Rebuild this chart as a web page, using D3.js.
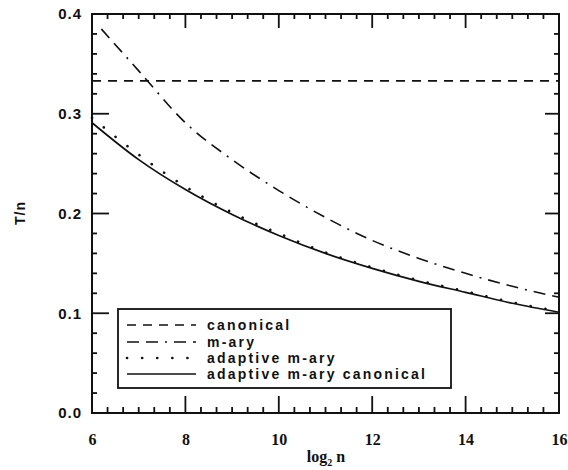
<!DOCTYPE html>
<html>
<head>
<meta charset="utf-8">
<script src="https://cdn.jsdelivr.net/npm/d3@7"></script>
<style>
  html, body { margin: 0; padding: 0; background: #fff; }
  svg { display: block; }
</style>
</head>
<body>
<svg id="chart" width="568" height="470"></svg>
<script>
// ---- data ----
const xTicks = [6, 8, 10, 12, 14, 16];
const yTicks = [0.0, 0.1, 0.2, 0.3, 0.4];
const yTickLabels = ["0.0", "0.1", "0.2", "0.3", "0.4"];

const canonicalX = [6, 16];
const canonicalY = [0.333, 0.333];

const mAryX = [6.2, 7, 8, 9, 10, 11, 12, 13, 14, 15, 16];
const mAryY = [0.385, 0.343, 0.291, 0.254, 0.223, 0.196, 0.173, 0.155, 0.140, 0.127, 0.116];

const adaptiveX = [6, 7, 8, 9, 10, 11, 12, 13, 14, 15, 16];
const adaptiveY = [0.296, 0.259, 0.227, 0.201, 0.180, 0.161, 0.146, 0.133, 0.122, 0.111, 0.102];

const adaptiveCanonX = [6, 7, 8, 9, 10, 11, 12, 13, 14, 15, 16];
const adaptiveCanonY = [0.291, 0.254, 0.224, 0.199, 0.178, 0.160, 0.145, 0.132, 0.121, 0.110, 0.101];

const legendLabels = ["canonical", "m-ary", "adaptive m-ary", "adaptive m-ary canonical"];

// ---- layout ----
const svg = d3.select("#chart");
const mLeft = 92, mRight = 559, mTop = 14, mBottom = 413;

const xScale = d3.scaleLinear().domain([6, 16]).range([mLeft, mRight]);
const yScale = d3.scaleLinear().domain([0, 0.4]).range([mBottom, mTop]);

const minorX = [];
for (let i = 0; i <= 30; i++) { if (i % 6 !== 0) minorX.push(6 + i / 3); }
const minorY = [];
for (let i = 0; i <= 20; i++) { if (i % 5 !== 0) minorY.push(i * 0.02); }

const ink = "#111";

// frame
svg.append("rect").attr("x", mLeft).attr("y", mTop).attr("width", mRight - mLeft).attr("height", mBottom - mTop)
  .attr("fill", "none").attr("stroke", ink).attr("stroke-width", 2);

// ---- ticks (drawn inward on all four sides) ----
const tickLayer = svg.append("g").attr("id", "ticks");
function addV(vals, y0, len) {
  vals.forEach(v => {
    tickLayer.append("rect").attr("x", xScale(v) - 0.9).attr("width", 1.8)
      .attr("y", Math.min(y0, y0 + len)).attr("height", Math.abs(len)).attr("fill", ink);
  });
}
function addH(vals, x0, len) {
  vals.forEach(v => {
    tickLayer.append("rect").attr("y", yScale(v) - 0.9).attr("height", 1.8)
      .attr("x", Math.min(x0, x0 + len)).attr("width", Math.abs(len)).attr("fill", ink);
  });
}
addV(xTicks, mBottom, -17);
addV(minorX, mBottom, -6);
addV(xTicks, mTop, 14);
addV(minorX, mTop, 5);
addH(yTicks, mLeft, 17);
addH(minorY, mLeft, 5);
addH(yTicks, mRight, -14);
addH(minorY, mRight, -5);

// tick labels via d3 axes
svg.append("g").attr("transform", `translate(0,${mBottom})`)
  .call(d3.axisBottom(xScale).tickValues(xTicks).tickSize(0).tickPadding(21).tickFormat(d3.format("d")))
  .call(g => g.select(".domain").remove())
  .call(g => g.selectAll(".tick line").remove())
  .call(g => g.selectAll("text").attr("font-family", "Liberation Serif, serif").attr("font-weight", "bold")
     .attr("font-size", 16).attr("fill", ink));

svg.append("g").attr("transform", `translate(${mLeft},0)`)
  .call(d3.axisLeft(yScale).tickValues(yTicks).tickSize(0).tickPadding(10).tickFormat((d, i) => yTickLabels[i]))
  .call(g => g.select(".domain").remove())
  .call(g => g.selectAll(".tick line").remove())
  .call(g => g.selectAll("text").attr("font-family", "Liberation Sans, Arial, sans-serif").attr("font-weight", "bold")
     .attr("font-size", 15).attr("letter-spacing", 1).attr("fill", ink));

// axis titles
const xt = svg.append("text").attr("x", 326).attr("y", 462).attr("text-anchor", "middle")
  .attr("font-family", "Liberation Serif, serif").attr("font-weight", "bold").attr("font-size", 16).attr("fill", ink);
xt.append("tspan").text("log");
xt.append("tspan").attr("font-size", 10).attr("dy", 4).text("2");
xt.append("tspan").attr("dy", -4).text(" n");

svg.append("text").attr("transform", "translate(25,213) rotate(-90)").attr("text-anchor", "middle")
  .attr("font-family", "Liberation Sans, Arial, sans-serif").attr("font-weight", "bold").attr("font-size", 14)
  .attr("letter-spacing", 1).attr("fill", ink).text("T/n");

// ---- curves ----
const styles = [
  { dash: "9,7", width: 1.6, cap: "butt" },
  { dash: "12,7,12,7,2,7", width: 1.6, cap: "butt" },
  { dash: "0.1,15", width: 2.6, cap: "round" },
  { dash: null, width: 1.7, cap: "butt" }
];
const series = [
  d3.zip(canonicalX, canonicalY),
  d3.zip(mAryX, mAryY),
  d3.zip(adaptiveX, adaptiveY),
  d3.zip(adaptiveCanonX, adaptiveCanonY)
];
const lineGen = d3.line().x(d => xScale(d[0])).y(d => yScale(d[1])).curve(d3.curveMonotoneX);

series.forEach((s, i) => {
  svg.append("path").datum(s).attr("d", lineGen)
    .attr("fill", "none").attr("stroke", ink)
    .attr("stroke-width", styles[i].width)
    .attr("stroke-linecap", styles[i].cap)
    .attr("stroke-dasharray", styles[i].dash);
});

// ---- legend ----
const lg = svg.append("g");
lg.append("rect").attr("x", 118).attr("y", 309).attr("width", 333).attr("height", 79)
  .attr("fill", "#fff").attr("stroke", ink).attr("stroke-width", 1.8);
const rowY = [325, 342, 358, 374];
legendLabels.forEach((lab, i) => {
  lg.append("line").attr("x1", 127).attr("x2", 196).attr("y1", rowY[i]).attr("y2", rowY[i])
    .attr("stroke", ink).attr("stroke-width", styles[i].width)
    .attr("stroke-linecap", styles[i].cap)
    .attr("stroke-dasharray", styles[i].dash);
  lg.append("text").attr("x", 207).attr("y", rowY[i] + 5)
    .attr("font-family", "Liberation Sans, Arial, sans-serif").attr("font-weight", "bold")
    .attr("font-size", 14).attr("letter-spacing", 2.2).attr("fill", ink).text(lab);
});
</script>
</body>
</html>
